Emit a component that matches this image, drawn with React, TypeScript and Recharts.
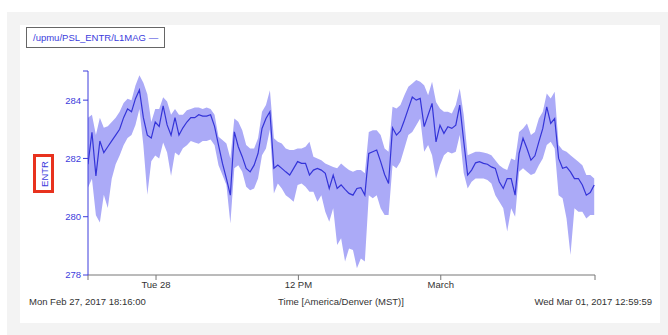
import React from 'react';
import { ComposedChart, Area, Line, XAxis, YAxis } from 'recharts';

const T0 = Date.UTC(2017, 1, 27, 18, 16, 0);
const TEND = Date.UTC(2017, 2, 1, 12, 59, 59);
const STEP_MIN = 20;

const meanValues = [
  281.8, 282.9, 281.4, 282.6, 282.2, 282.4, 282.6, 282.8, 283.0, 283.4,
  283.7, 283.6, 284.05, 284.35, 283.4, 282.8, 282.7, 283.25, 283.1, 283.8,
  283.15, 282.8, 283.4, 282.8, 283.05, 283.25, 283.4, 283.4, 283.5, 283.45,
  283.45, 283.5, 283.1, 282.46, 281.83, 281.31, 280.74, 282.91, 282.4, 282.06,
  281.66, 281.54, 281.77, 282.17, 283.03, 283.37, 283.6, 281.66, 281.77, 281.66,
  281.54, 281.43, 281.66, 281.89, 281.83, 281.83, 281.43, 281.6, 281.66, 281.6,
  281.49, 280.97, 281.43, 280.97, 281.09, 280.94, 280.8, 280.74, 280.97, 281.0,
  280.74, 282.17, 282.23, 282.29, 281.89, 281.45, 281.14, 283.05, 282.8, 282.94,
  283.31, 283.71, 284.11, 284.0, 284.06, 283.09, 283.49, 283.89, 282.57, 283.14,
  282.86, 283.09, 283.03, 283.14, 283.83, 282.6, 281.43, 281.6, 281.85, 281.89,
  281.83, 281.8, 281.71, 281.66, 281.2, 280.97, 281.31, 281.31, 280.74, 282.17,
  282.69, 282.34, 281.94, 282.09, 282.57, 283.03, 283.77, 283.2, 283.37, 282.0,
  281.66, 281.71, 281.54, 281.31, 281.31, 281.09, 280.74, 280.83, 281.09,
];

const maxValues = [
  283.4, 283.5, 282.8, 283.4, 283.05, 283.1, 283.25, 283.4, 283.6, 283.9,
  284.05, 284.0, 284.5, 284.85, 284.6, 284.2, 283.25, 283.7, 283.7, 284.1,
  283.95, 283.5, 283.7, 283.5, 283.5, 283.65, 283.7, 283.75, 283.75, 283.7,
  283.75, 283.7, 283.5, 282.74, 282.63, 282.51, 282.0, 283.37, 283.26, 282.97,
  282.46, 282.34, 282.34, 282.69, 283.6, 283.83, 284.34, 282.69, 282.57, 282.51,
  282.34, 282.29, 282.29, 282.34, 282.34, 282.4, 282.57, 282.06, 282.0, 281.94,
  281.83, 281.77, 281.71, 281.66, 281.83, 281.71, 281.6, 281.54, 281.6, 281.6,
  281.49, 282.91, 282.97, 282.97, 282.8, 282.34, 282.23, 283.77, 283.71, 283.83,
  284.17, 284.46, 284.57, 284.69, 284.63, 284.51, 284.17, 284.63, 283.94, 283.71,
  283.6, 283.6, 283.54, 283.83, 284.4, 283.5, 282.11, 282.17, 282.23, 282.23,
  282.2, 282.17, 282.11, 281.94, 281.77, 281.66, 281.6, 282.0, 281.94, 282.91,
  283.03, 283.2, 282.8, 282.91, 283.37, 283.6, 284.23, 284.06, 284.29, 282.46,
  282.29, 282.23, 282.11, 282.0, 281.89, 281.77, 281.43, 281.43, 281.31,
];

const minValues = [
  281.0, 281.3, 280.05, 279.8, 280.75, 280.3, 281.3, 281.8, 282.1, 282.45,
  282.7, 282.8, 283.15, 283.7, 282.45, 280.75, 281.9, 282.1, 282.0, 282.55,
  282.2, 281.4, 282.2, 282.1, 282.35, 282.45, 282.6, 282.55, 282.5, 282.6,
  282.6, 282.65, 282.45, 281.77, 281.43, 281.09, 279.77, 281.66, 281.77, 281.54,
  281.03, 280.91, 280.97, 281.31, 282.11, 282.34, 282.99, 280.8, 281.14, 280.97,
  280.74, 280.63, 280.51, 281.09, 281.14, 281.03, 280.86, 280.86, 280.51, 280.74,
  280.17, 279.83, 280.29, 279.03, 279.26, 278.46, 278.91, 278.86, 278.23, 278.57,
  278.46, 280.74, 280.63, 280.74, 280.29, 280.06, 280.06, 281.77, 281.66, 281.89,
  282.34, 282.8, 282.91, 283.14, 283.37, 282.23, 282.46, 282.11, 281.31, 281.77,
  282.11, 282.23, 282.17, 282.23, 282.8, 281.5, 280.97, 281.2, 281.31, 281.31,
  281.31, 281.26, 281.14, 280.74, 280.51, 280.29, 279.49, 280.29, 280.0, 281.54,
  281.66, 281.54, 281.43, 281.49, 281.77, 282.0, 282.46, 282.57, 282.34, 280.74,
  280.63, 279.94, 278.69, 280.29, 280.17, 280.17, 279.94, 280.06, 280.06,
];

const xTicks = [
  T0,
  Date.UTC(2017, 1, 28, 0, 0, 0),
  Date.UTC(2017, 1, 28, 12, 0, 0),
  Date.UTC(2017, 2, 1, 0, 0, 0),
  Date.UTC(2017, 2, 1, 12, 0, 0),
  TEND,
];
const xTickLabels = ['', 'Tue 28', '12 PM', 'March', '12 PM', ''];

const yTicks = [278, 280, 282, 284, 285];
const yTickLabels = ['278', '280', '282', '284', ''];

const legendLabel = '/upmu/PSL_ENTR/L1MAG —';
const yLabel = 'ENTR';
const startLabel = 'Mon Feb 27, 2017 18:16:00';
const endLabel = 'Wed Mar 01, 2017 12:59:59';
const axisTitle = 'Time [America/Denver (MST)]';

const data = meanValues.map((m, i) => ({
  t: T0 + i * STEP_MIN * 60000,
  mean: m,
  band: [minValues[i], maxValues[i]],
}));

const FONT = '"Liberation Sans", Arial, Helvetica, sans-serif';
const BLUE = '#3c3cdc';

export default function App() {
  return (
    <div style={{ position: 'absolute', left: 0, top: 0, width: 668, height: 335, background: '#ffffff', fontFamily: FONT, overflow: 'hidden' }}>
      <div style={{ position: 'absolute', left: 7, top: 12, width: 661, height: 330, background: '#f3f3f3' }} />
      <div style={{ position: 'absolute', left: 20, top: 25, width: 640, height: 298, background: '#ffffff' }} />
      <div style={{ position: 'absolute', left: 0, top: 0 }}>
        <ComposedChart
          width={668}
          height={335}
          data={data}
          margin={{ top: 71, right: 73, bottom: 30, left: 28 }}
        >
          <XAxis
            dataKey="t"
            type="number"
            domain={[T0, TEND]}
            ticks={xTicks}
            tickFormatter={(v) => xTickLabels[xTicks.indexOf(v)] ?? ''}
            stroke="#777777"
            tick={{ fill: '#333333', fontSize: 9.5, fontFamily: FONT }}
            tickSize={5}
            tickMargin={1}
            height={30}
            allowDataOverflow
          />
          <YAxis
            type="number"
            domain={[278, 285]}
            ticks={yTicks}
            tickFormatter={(v) => yTickLabels[yTicks.indexOf(v)] ?? ''}
            stroke={BLUE}
            tick={{ fill: BLUE, fontSize: 9.5, fontFamily: FONT }}
            tickSize={5}
            tickMargin={2}
            width={60}
            allowDataOverflow
          />
          <Area
            type="linear"
            dataKey="band"
            stroke="none"
            fill="#abaaf7"
            fillOpacity={1}
            isAnimationActive={false}
          />
          <Line
            type="linear"
            dataKey="mean"
            stroke="#3434d8"
            strokeWidth={1.2}
            dot={false}
            isAnimationActive={false}
          />
        </ComposedChart>
      </div>
      <div style={{ position: 'absolute', left: 26, top: 27, width: 139, height: 21, border: '1px solid #666666', background: '#ffffff', boxSizing: 'border-box' }}>
        <div style={{ position: 'absolute', left: 6, top: 3.5, fontSize: 9.5, color: BLUE, whiteSpace: 'nowrap' }}>{legendLabel}</div>
      </div>
      <div style={{ position: 'absolute', left: 33, top: 154, width: 21, height: 39, border: '3px solid #e8321e', boxSizing: 'border-box', background: '#ffffff' }}>
        <div style={{ position: 'absolute', left: '50%', top: '50%', transform: 'translate(-50%, -50%) rotate(-90deg)', fontSize: 9.5, color: BLUE, whiteSpace: 'nowrap' }}>{yLabel}</div>
      </div>
      <div style={{ position: 'absolute', left: 29, top: 296, fontSize: 9.5, color: '#333333', whiteSpace: 'nowrap' }}>{startLabel}</div>
      <div style={{ position: 'absolute', left: 341, top: 296, transform: 'translateX(-50%)', fontSize: 9.5, color: '#333333', whiteSpace: 'nowrap' }}>{axisTitle}</div>
      <div style={{ position: 'absolute', right: 16, top: 296, fontSize: 9.5, color: '#333333', whiteSpace: 'nowrap' }}>{endLabel}</div>
    </div>
  );
}
